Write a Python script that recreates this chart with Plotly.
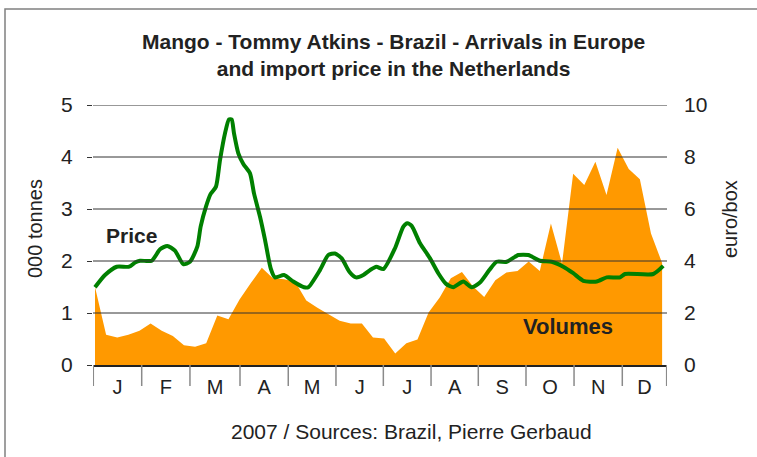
import plotly.graph_objects as go

# ---- data ----
weeks = list(range(1, 53))
volumes = [1.50, 0.58, 0.53, 0.58, 0.66, 0.80, 0.66, 0.56, 0.38, 0.35,
           0.42, 0.95, 0.88, 1.26, 1.57, 1.87, 1.67, 1.65, 1.60, 1.24,
           1.10, 0.98, 0.85, 0.80, 0.80, 0.53, 0.51, 0.22, 0.42, 0.49,
           1.01, 1.30, 1.67, 1.79, 1.51, 1.31, 1.63, 1.78, 1.81, 1.99,
           1.81, 2.72, 1.95, 3.68, 3.46, 3.91, 3.27, 4.18, 3.77, 3.57,
           2.53, 1.96]

price_week = [1.0, 1.9, 2.95, 4.08, 4.6, 5.05, 6.1, 6.85, 7.5, 8.19, 8.94, 9.54,
              10.2, 10.5, 10.98, 11.4, 11.88, 12.24, 12.69, 13.05, 13.29, 13.5,
              13.89, 14.34, 14.94, 15.3, 15.84, 16.29, 16.8, 17.19, 18.0, 18.83,
              19.8, 20.18, 21.23, 21.98, 22.58, 23.19, 23.87, 24.47, 25.13, 25.73,
              26.3, 26.93, 27.98, 28.73, 29.09, 29.48, 30.23, 31.13, 31.87, 32.57,
              33.22, 34.12, 34.88, 35.62, 36.46, 37.12, 38.02, 39.07, 39.97, 41.02,
              42.07, 43.11, 44.01, 44.91, 46.12, 47.02, 48.22, 48.66, 51.21, 52.1]
price = [2.99, 3.46, 3.78, 3.78, 3.94, 4.01, 4.01, 4.45, 4.58, 4.40, 3.88, 3.97,
         4.55, 5.32, 6.09, 6.58, 6.86, 7.88, 8.91, 9.45, 9.44, 8.91,
         8.14, 7.73, 7.37, 6.60, 5.70, 4.81, 3.72, 3.37, 3.46, 3.21,
         2.99, 2.99, 3.65, 4.23, 4.29, 4.10, 3.59, 3.37, 3.46, 3.65,
         3.78, 3.69, 4.49, 5.32, 5.45, 5.35, 4.68, 4.10, 3.53, 3.12,
         2.99, 3.21, 2.99, 3.17, 3.65, 3.97, 3.97, 4.23, 4.23, 4.01,
         3.97, 3.78, 3.53, 3.24, 3.21, 3.37, 3.37, 3.50, 3.50, 3.81]

month_labels = ["J", "F", "M", "A", "M", "J", "J", "A", "S", "O", "N", "D"]
month_bounds = [0.847, 5.20, 9.54, 14.04, 18.38, 22.67, 26.93, 31.22,
                35.47, 39.76, 44.08, 48.42, 52.41]
left_ticks = [0, 1, 2, 3, 4, 5]
right_ticks = [0, 2, 4, 6, 8, 10]

FONT = "Liberation Sans, Arial, sans-serif"
TXT = "#222222"
ORANGE = "#FF9900"
GREEN = "#008000"

month_centers = [(month_bounds[i] + month_bounds[i + 1]) / 2 for i in range(12)]

fig = go.Figure()
fig.add_trace(go.Scatter(x=weeks, y=volumes, mode="lines", line=dict(width=0, color=ORANGE),
                         fill="tozeroy", fillcolor=ORANGE, yaxis="y", showlegend=False,
                         hoverinfo="skip"))
fig.add_trace(go.Scatter(x=price_week, y=price, mode="lines",
                         line=dict(width=4, color=GREEN, shape="spline", smoothing=0.6),
                         yaxis="y2", showlegend=False))

shapes = []
for v in left_ticks[1:]:
    shapes.append(dict(type="line", xref="paper", x0=0, x1=1, yref="y", y0=v, y1=v,
                       line=dict(color="#333333", width=1), layer="above"))
for b in month_bounds:
    shapes.append(dict(type="line", xref="x", x0=b, x1=b, yref="paper", y0=0, y1=-21 / 260,
                       line=dict(color="#8a8a8a", width=1.5), layer="above"))
# outer frame (top and left edge visible)
shapes.append(dict(type="rect", xref="paper", yref="paper",
                   x0=(5 - 93) / 574, x1=(800 - 93) / 574,
                   y0=(365 - 520) / 260, y1=(365 - 9) / 260,
                   line=dict(color="#808080", width=1.5), fillcolor="rgba(0,0,0,0)",
                   layer="below"))

annotations = [
    dict(text="<b>Mango - Tommy Atkins - Brazil - Arrivals in Europe<br>and import price in the Netherlands</b>",
         xref="paper", yref="paper", x=(393 - 93) / 574, y=(365 - 54.5) / 260,
         xanchor="center", yanchor="middle", showarrow=False,
         font=dict(family=FONT, size=21, color=TXT)),
    dict(text="2007 / Sources: Brazil, Pierre Gerbaud", xref="paper", yref="paper",
         x=(411 - 93) / 574, y=(365 - 431) / 260, xanchor="center", yanchor="middle",
         showarrow=False, font=dict(family=FONT, size=21, color=TXT)),
    dict(text="<b>Price</b>", xref="paper", yref="paper", x=(131 - 93) / 574, y=(365 - 235) / 260,
         xanchor="center", yanchor="middle", showarrow=False,
         font=dict(family=FONT, size=21, color=TXT)),
    dict(text="<b>Volumes</b>", xref="paper", yref="paper", x=(568 - 93) / 574, y=(365 - 326) / 260,
         xanchor="center", yanchor="middle", showarrow=False,
         font=dict(family=FONT, size=22, color=TXT)),
    dict(text="000 tonnes", xref="paper", yref="paper", x=(35 - 93) / 574, y=(365 - 229) / 260,
         xanchor="center", yanchor="middle", textangle=-90, showarrow=False,
         font=dict(family=FONT, size=20, color=TXT)),
    dict(text="euro/box", xref="paper", yref="paper", x=(730 - 93) / 574, y=(365 - 219) / 260,
         xanchor="center", yanchor="middle", textangle=-90, showarrow=False,
         font=dict(family=FONT, size=20, color=TXT)),
]

fig.update_layout(
    width=757, height=457,
    margin=dict(l=93, r=90, t=105, b=92),
    paper_bgcolor="white", plot_bgcolor="white",
    font=dict(family=FONT, color=TXT),
    showlegend=False,
    xaxis=dict(range=[0.82, 52.44], tickmode="array", tickvals=month_centers,
               ticktext=month_labels, ticks="", showgrid=False, zeroline=False,
               showline=True, linecolor="#222222", linewidth=1.5,
               tickfont=dict(family=FONT, size=20, color=TXT), ticklabelstandoff=3),
    yaxis=dict(range=[0, 5], tickmode="array", tickvals=left_ticks, ticks="outside",
               ticklen=5, tickcolor="#333333", showgrid=False, zeroline=False, showline=False,
               tickfont=dict(family=FONT, size=21, color=TXT), ticklabelstandoff=10),
    yaxis2=dict(range=[0, 10], tickmode="array", tickvals=right_ticks, overlaying="y",
                side="right", ticks="", showgrid=False, zeroline=False, showline=False,
                tickfont=dict(family=FONT, size=21, color=TXT), ticklabelstandoff=16),
    shapes=shapes,
    annotations=annotations,
)

fig.write_html("out.html", config={"displayModeBar": False},
               post_script="document.body.style.margin='0';document.body.style.padding='0';")
